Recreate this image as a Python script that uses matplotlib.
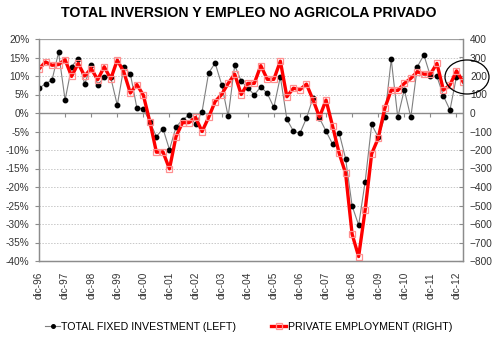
import numpy as np
import matplotlib
matplotlib.use("Agg")
import matplotlib.pyplot as plt
from matplotlib.patches import Ellipse
from matplotlib.ticker import FuncFormatter

plt.rcParams['font.family'] = ['Liberation Sans', 'DejaVu Sans']

# Quarterly data, Q4 1996 .. Q1 2013
investment = [6.7, 7.9, 8.9, 16.4, 3.5, 12.5, 14.7, 7.8, 13.0, 7.6,
              9.6, 9.6, 2.1, 12.3, 10.6, 1.4, 1.1, -2.4, -6.4, -4.2,
              -9.9, -3.8, -1.8, -0.6, -3.1, 0.4, 10.8, 13.5, 7.7, -0.9,
              12.9, 8.6, 6.8, 4.9, 7.1, 5.3, 1.5, 9.8, -1.7, -4.9,
              -5.5, -1.4, 4.0, -1.4, -4.9, -8.4, -5.3, -12.3, -25.1, -30.3,
              -18.6, -3.1, -6.5, -1.2, 14.5, -1.2, 6.3, -1.2, 12.5, 15.7,
              10.0, 9.9, 4.6, 0.8, 9.8, np.nan]
employment = [238, 276, 258, 262, 288, 198, 268, 200, 240, 180,
              250, 184, 286, 222, 108, 154, 96, -48, -212, -210,
              -302, -128, -52, -52, -24, -100, -24, 62, 100, 160,
              210, 100, 160, 160, 256, 182, 182, 280, 88, 134,
              126, 156, 72, -22, 70, -70, -216, -326, -655, -776,
              -524, -220, -137, 25, 124, 122, 160, 187, 223, 210,
              210, 268, 124, 151, 228, 169]
tick_labels = ["dic-96", "dic-97", "dic-98", "dic-99", "dic-00", "dic-01",
               "dic-02", "dic-03", "dic-04", "dic-05", "dic-06", "dic-07",
               "dic-08", "dic-09", "dic-10", "dic-11", "dic-12"]

W, H = 497, 340
fig = plt.figure(figsize=(W / 100, H / 100), dpi=100)
L, R, T, B = 39, 463, 39, 261
ax1 = fig.add_axes([L / W, 1 - B / H, (R - L) / W, (B - T) / H])
ax2 = ax1.twinx()

x = np.arange(len(employment))
tick_pos = x[::4][:len(tick_labels)]

gcol = '#8c8c8c'
ax1.set_xlim(0, len(x) - 1)
ax1.set_ylim(-40, 20)
ax2.set_ylim(-800, 400)
ax1.set_yticks(np.arange(-40, 21, 5))
ax2.set_yticks(np.arange(-800, 401, 100))
ax1.yaxis.set_major_formatter(FuncFormatter(lambda v, p: f"{v:.0f}%"))

for yv in np.arange(-35, 20, 5):
    if yv != 0:
        ax1.axhline(yv, color='#c8c8c8', lw=0.7, ls=(0, (1.5, 1.5)), zorder=0)
ax1.axhline(20, color='#a0a0a0', lw=0.9, zorder=0)
ax1.axhline(0, color=gcol, lw=1.0, zorder=1)
ax1.vlines(tick_pos[1:], -1.1, 0, color=gcol, lw=0.8, zorder=1)

ax1.plot(x, investment, color='#7f7f7f', lw=0.8, marker='o', markersize=3.2,
         markerfacecolor='black', markeredgecolor='black', zorder=3,
         label='TOTAL FIXED INVESTMENT (LEFT)')
ax2.plot(x, employment, color='#ff0000', lw=2.4, marker='s', markersize=4.6,
         markerfacecolor='none', markeredgecolor='#ff9090', markeredgewidth=0.9,
         zorder=2, label='PRIVATE EMPLOYMENT (RIGHT)')

ax1.set_xticks(tick_pos)
ax1.set_xticklabels(tick_labels, rotation=90)
ax1.tick_params(axis='x', length=0, pad=8, labelsize=7.2, colors='#333333')
ax1.tick_params(axis='y', length=3, direction='out', labelsize=7.3,
                colors='#333333', color=gcol, pad=4)
ax2.tick_params(axis='y', length=3, direction='in', labelsize=7.3,
                colors='#333333', color=gcol, pad=5)

for a in (ax1, ax2):
    a.spines['top'].set_visible(False)
    for s in ('left', 'right', 'bottom'):
        a.spines[s].set_color(gcol)
        a.spines[s].set_linewidth(0.9)

fig.text(0.5, 1 - 13 / H, "TOTAL INVERSION Y EMPLEO NO AGRICOLA PRIVADO",
         ha='center', va='center', fontsize=10.2, fontweight='bold')

h1, l1 = ax1.get_legend_handles_labels()
h2, l2 = ax2.get_legend_handles_labels()
fig.legend(h1 + h2, l1 + l2, loc='center', bbox_to_anchor=(0.5, 1 - 327 / H),
           ncol=2, frameon=False, fontsize=7.7, handlelength=1.4,
           handletextpad=0.1, columnspacing=3.3, markerscale=0.8)

ell = Ellipse((467 / W, 1 - 77 / H), 44 / W, 34 / H, transform=fig.transFigure,
              fill=False, edgecolor='black', lw=0.9)
fig.patches.append(ell)

fig.savefig("out.png", dpi=100)
